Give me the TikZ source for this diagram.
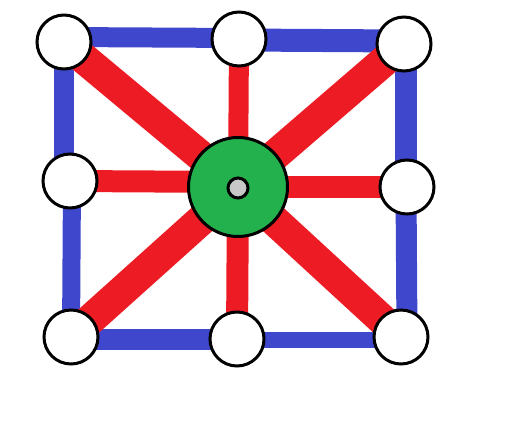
\documentclass[tikz,border=0pt]{standalone}
\usetikzlibrary{backgrounds}
\definecolor{pblue}{HTML}{3F48CC}
\definecolor{pred}{HTML}{ED1C24}
\definecolor{pgreen}{HTML}{22B14C}
\definecolor{pgray}{HTML}{C8C8C8}
\begin{document}
\begin{tikzpicture}[x=1pt,y=-1pt,
  vert/.style={circle,draw=black,line width=3pt,fill=white,minimum size=54pt,inner sep=0pt},
  hub/.style={circle,draw=black,line width=3pt,fill=pgreen,minimum size=99pt,inner sep=0pt},
  dot/.style={circle,draw=black,line width=3pt,fill=pgray,minimum size=20pt,inner sep=0pt},
  rim/.style={pblue,line width=20pt},
  spoke/.style={pred,line width=22pt},
  diag/.style={pred,line width=31pt,line cap=round}]
\useasboundingbox (0,0) rectangle (512,430);
\node[vert] (tl) at (64,42) {};
\node[vert] (tm) at (239,39) {};
\node[vert] (tr) at (404,44) {};
\node[vert] (ml) at (70,181) {};
\node[vert] (mr) at (407,187) {};
\node[vert] (bl) at (71,337) {};
\node[vert] (bm) at (237,339) {};
\node[vert] (br) at (401,337) {};
\node[hub] (c) at (238,187) {};
\node[dot] (cd) at (238,188) {};
\begin{pgfonlayer}{background}
  \draw[rim] ([yshift=5pt]tl.center) -- ([yshift=1pt]tm.center);
  \draw[rim,line width=23pt] ([yshift=-1pt]tm.center) -- ([yshift=3pt]tr.center);
  \draw[rim] (tl.center) -- ([xshift=-6pt]ml.center);
  \draw[rim,line width=18pt] ([xshift=2pt]ml.center) -- (bl.center);
  \draw[rim,line width=22pt] ([xshift=2pt]tr.center) -- ([xshift=-1pt]mr.center);
  \draw[rim,line width=21pt] ([xshift=-1pt]mr.center) -- ([xshift=6pt]br.center);
  \draw[rim,line width=21pt] ([yshift=-3pt]bl.center) -- ([yshift=-1pt]bm.center);
  \draw[rim,line width=16pt] ([yshift=-1pt]bm.center) -- ([yshift=-3pt]br.center);
  \draw[spoke,line width=20pt] (tm.center) -- (c.center);
  \draw[spoke] (ml.center) -- ([yshift=5pt]c.center);
  \draw[spoke] (c.center) -- (mr.center);
  \draw[spoke] (c.center) -- (bm.center);
  \draw[diag] (tl.center) -- (c.center);
  \draw[diag] (tr.center) -- (c.center);
  \draw[diag] (bl.center) -- (c.center);
  \draw[diag] (br.center) -- (c.center);
\end{pgfonlayer}
\end{tikzpicture}
\end{document}
